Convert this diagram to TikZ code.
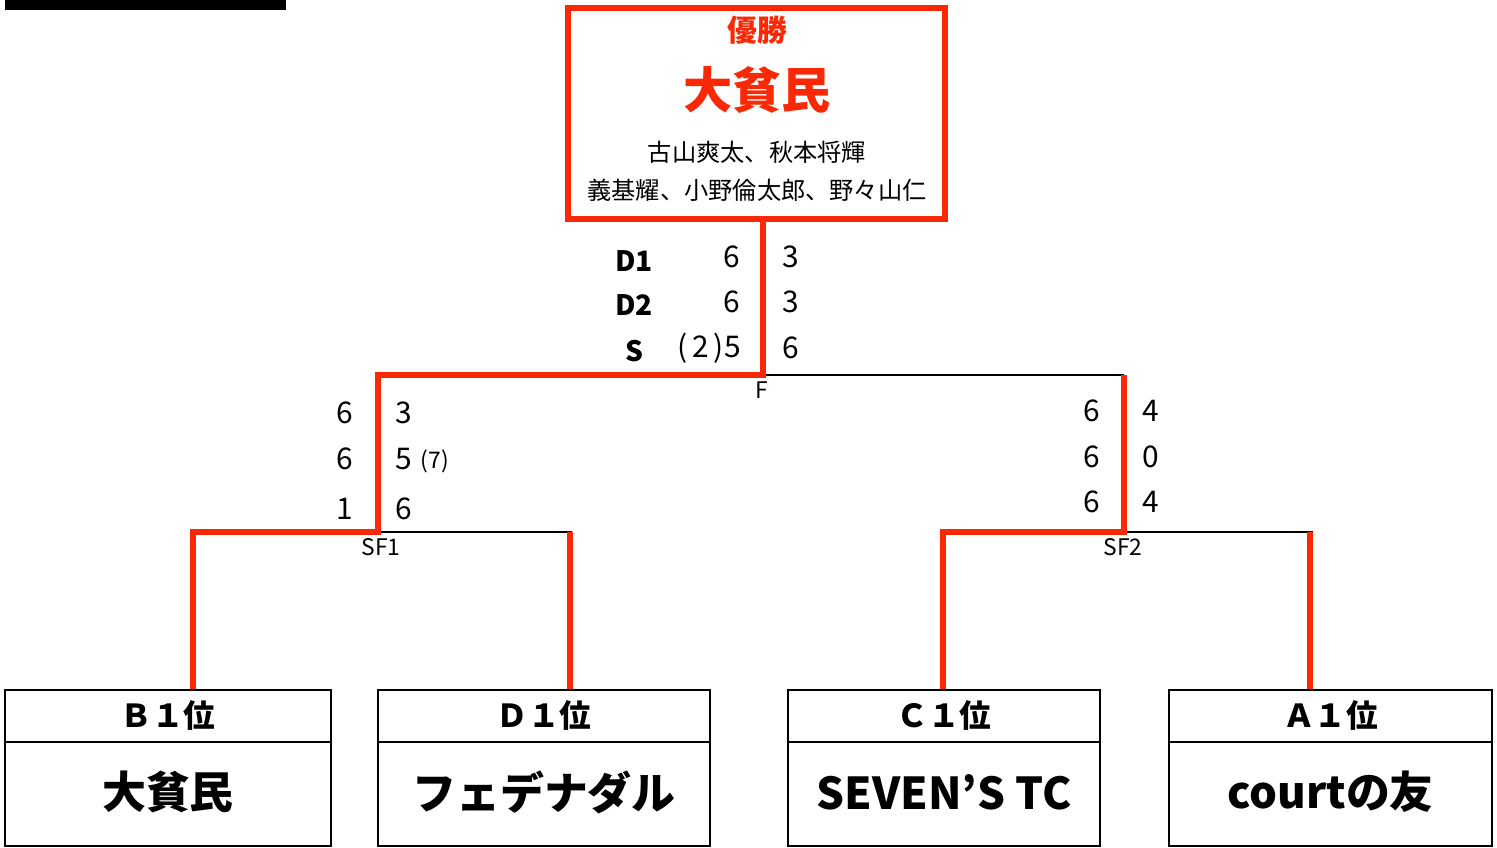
\documentclass[tikz,border=0pt]{standalone}
\usepackage{fontspec}
\setmainfont{Noto Sans CJK JP}
\usetikzlibrary{positioning}
\definecolor{winred}{RGB}{250,40,5}

\begin{document}
\begin{tikzpicture}[x=0.02cm,y=-0.02cm,
  winline/.style={draw=winred,line width=3.2pt},
  plainline/.style={draw=black,line width=1.2pt},
  score/.style={inner sep=0pt,font=\fontsize{17}{17}\selectfont},
  settag/.style={inner sep=0pt,font=\fontsize{16}{16}\selectfont\bfseries},
  roundtag/.style={inner sep=0pt,font=\fontsize{13}{13}\selectfont},
  teambox/.style={draw,line width=1.4pt,minimum height=3.12cm},
  headtext/.style={inner sep=0pt,font=\fontsize{18}{18}\selectfont\bfseries},
  teamtext/.style={inner sep=0pt,font=\fontsize{25}{25}\selectfont\bfseries}]
\useasboundingbox (0,0) rectangle (1497,848);
\fill (5,0) rectangle (286,10);
% champion
\node[draw=winred,line width=3.4pt,minimum width=7.54cm,minimum height=4.22cm] (champ) at (756.5,113.5) {};
\node[inner sep=0pt,text=winred,font=\fontsize{17}{17}\selectfont\bfseries] (win) at (757,30) {優勝};
\node[inner sep=0pt,text=winred,font=\fontsize{28}{28}\selectfont\bfseries] (winner) at (757,90) {大貧民};
\node[inner sep=0pt,font=\fontsize{13.8}{14}\selectfont] (players1) at (757,152) {古山爽太、秋本将輝};
\node[inner sep=0pt,font=\fontsize{13.8}{14}\selectfont] (players2) at (757,190) {義基耀、小野倫太郎、野々山仁};
% teams
\node[teambox,minimum width=6.52cm] (B1) at (168,768) {};
\node[teambox,minimum width=6.64cm] (D1) at (544,768) {};
\node[teambox,minimum width=6.24cm] (C1) at (944,768) {};
\node[teambox,minimum width=6.46cm] (A1) at (1330.5,768) {};
\foreach \t in {B1,D1,C1,A1}
  \draw[line width=1.4pt] (\t.west |- 0,742) -- (\t.east |- 0,742);
\node[headtext] (B1h) at (168,715) {Ｂ１位};
\node[headtext] (D1h) at (544,715) {Ｄ１位};
\node[headtext] (C1h) at (944,715) {Ｃ１位};
\node[headtext] (A1h) at (1330.5,715) {Ａ１位};
\node[teamtext] (B1n) at (168,792) {大貧民};
\node[teamtext] (D1n) at (544,792) {フェデナダル};
\node[teamtext] (C1n) at (944,792) {SEVEN’S TC};
\node[teamtext] (A1n) at (1330.5,792) {courtの友};
% bracket
\coordinate (F) at (763,375);
\coordinate (SF1) at (378,532);
\coordinate (SF2) at (1124,532);
\draw[plainline] (F) -- (SF2 |- F);
\draw[plainline] (SF1) -- (572,532);
\draw[plainline] (SF2) -- (1313,532);
\draw[winline] (F |- champ.south) -- (F) -| (SF1) -| (B1.north -| 193,0);
\draw[winline] (SF2 |- F) -- (SF2) -| (C1.north -| 943,0);
\draw[winline] (570,532) -- (D1.north -| 570,0);
\draw[winline] (1310,532) -- (A1.north -| 1310,0);
\node[roundtag] at (762,390) {F};
\node[roundtag] at (381,547) {SF1};
\node[roundtag] at (1123,547) {SF2};
% final scores
\node[settag] at (634,261) {D1};
\node[settag] at (634,305) {D2};
\node[settag] at (634,351) {S};
\node[score] at (732,257) {6};
\node[score] at (732,302) {6};
\node[score,anchor=east] at (741,348) {(\,2\,)5};
\node[score] at (791,257) {3};
\node[score] at (791,302) {3};
\node[score] at (791,348) {6};
% semi final scores
\node[score] at (345,413) {6};
\node[score] at (345,459) {6};
\node[score] at (345,509) {1};
\node[score] at (404,413) {3};
\node[score] at (404,459) {5};
\node[score,font=\fontsize{13}{13}\selectfont] at (435,461) {(7)};
\node[score] at (404,509) {6};
\node[score] at (1092,411) {6};
\node[score] at (1092,457) {6};
\node[score] at (1092,502) {6};
\node[score] at (1151,411) {4};
\node[score] at (1151,457) {0};
\node[score] at (1151,502) {4};
\end{tikzpicture}
\end{document}
